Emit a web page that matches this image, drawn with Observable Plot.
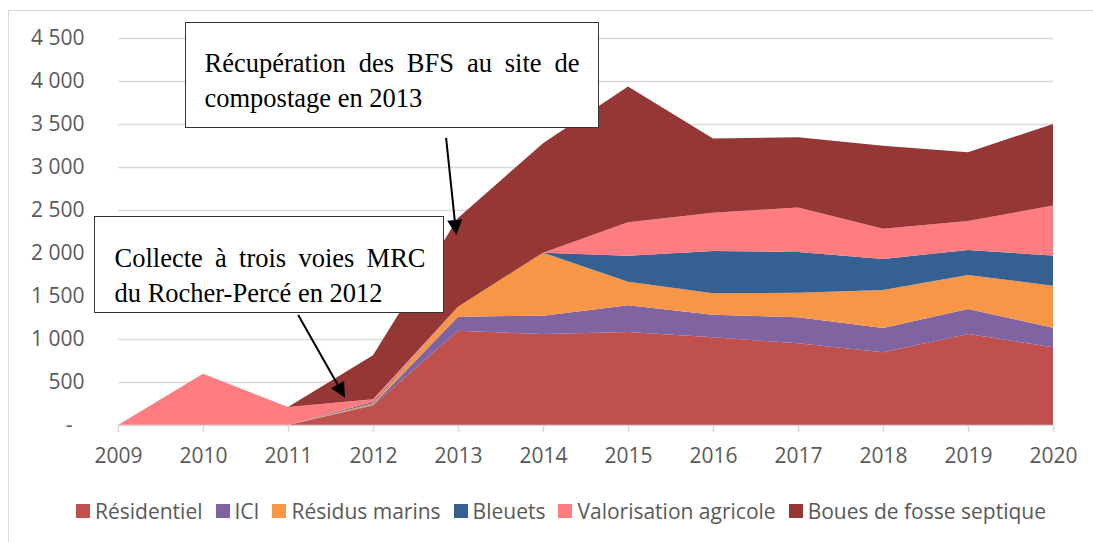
<!DOCTYPE html>
<html><head><meta charset="utf-8">
<script src="https://cdn.jsdelivr.net/npm/d3@7"></script>
<script src="https://cdn.jsdelivr.net/npm/@observablehq/plot@0.6"></script>
<style>
body{margin:0;background:#fff;}
#wrap{position:relative;width:1093px;height:542px;overflow:hidden;background:#fff;font-family:"Open Sans",sans-serif;}
#frame{position:absolute;left:8px;top:10px;width:1100px;height:540px;border:1.5px solid #d9d9d9;box-sizing:border-box;}
#chart{position:absolute;left:0;top:0;}
#overlay{position:absolute;left:0;top:0;pointer-events:none;}
.box{position:absolute;background:#fff;border:1.5px solid #333;box-sizing:border-box;font-family:"Liberation Serif","Times New Roman",serif;font-size:26.5px;line-height:35px;color:#000;}
.l1{text-align:justify;text-align-last:justify;white-space:nowrap;}
.l2{white-space:nowrap;}
#legend{position:absolute;left:0;top:497px;width:1122px;display:flex;justify-content:center;align-items:center;font-size:21px;color:#595959;}
.item{display:flex;align-items:center;margin:0 6.5px;}
.sw{width:14px;height:14px;margin-right:5px;}
</style>
</head><body>
<div id="wrap">
  <div id="frame"></div>
  <div id="chart"></div>
  <svg id="overlay" width="1093" height="542"></svg>
  <div id="legend"></div>
</div>
<script>
const years = [2009,2010,2011,2012,2013,2014,2015,2016,2017,2018,2019,2020];
const residentiel   = [0,0,0,228,1095,1058,1080,1020,950,845,1058,903];
const ici           = [0,0,0,8,165,213,313,263,302,283,291,229];
const residusMarins = [0,0,0,18,116,733,273,248,287,442,396,488];
const bleuets       = [0,0,0,13,0,0,301,493,473,361,290,350];
const valorisation  = [0,595,210,31,0,0,390,445,516,352,337,581];
const boues         = [0,0,0,512,1030,1272,1578,861,818,965,799,950];

const seriesNames = ["Résidentiel","ICI","Résidus marins","Bleuets","Valorisation agricole","Boues de fosse septique"];
const seriesColors = ["#C0504D","#8064A2","#F79646","#366092","#FF7C80","#953735"];
const seriesValues = [residentiel, ici, residusMarins, bleuets, valorisation, boues];
const yTicks = [500,1000,1500,2000,2500,3000,3500,4000,4500];

const annotations = [
  {lines:["Récupération des BFS au site de","compostage en 2013"], left:185, top:22, width:414, height:106, padL:18.5, padR:18.5, padT:22.5},
  {lines:["Collecte à trois voies MRC","du Rocher-Percé en 2012"], left:94, top:216, width:350, height:97, padL:19.5, padR:17.5, padT:23.5}
];
const arrows = [
  {x1:2012.86, y1:3338, x2:2012.98, y2:2210},
  {x1:2011.12, y1:1279, x2:2011.67, y2:318}
];

const data = [];
seriesNames.forEach((s, i) => {
  years.forEach((yr, j) => data.push({year: yr, value: seriesValues[i][j], serie: s}));
});

const fmt = d => d3.format(",")(d).replace(/,/g, "\u00a0");

const plot = Plot.plot({
  width: 1093,
  height: 480,
  marginLeft: 118,
  marginRight: 40,
  marginTop: 38,
  marginBottom: 55,
  style: {fontFamily: "Open Sans", fontSize: "21px", color: "#595959", background: "transparent"},
  x: {domain: [2009, 2020]},
  y: {domain: [0, 4500]},
  color: {domain: seriesNames, range: seriesColors},
  marks: [
    Plot.gridY(yTicks, {stroke: "#d9d9d9", strokeOpacity: 1, strokeWidth: 1.5}),
    Plot.areaY(data, {x: "year", y: "value", fill: "serie", z: "serie", curve: "linear"}),
    Plot.ruleY([0], {stroke: "#d9d9d9", strokeWidth: 1.5}),
    Plot.axisX(years, {tickFormat: d3.format("d"), tickSize: 7, tickPadding: 16, stroke: "#d9d9d9", strokeWidth: 1.5, fill: "#595959", label: null}),
    Plot.axisY(yTicks, {tickFormat: fmt, tickSize: 0, tickPadding: 34, fill: "#595959", label: null}),
    Plot.axisY([0], {tickFormat: () => "-", tickSize: 0, tickPadding: 46, fill: "#595959", label: null})
  ]
});
document.getElementById("chart").appendChild(plot);

const xs = plot.scale("x"), ys = plot.scale("y");
const ov = d3.select("#overlay");
arrows.forEach(a => {
  const sx = xs.apply(a.x1), sy = ys.apply(a.y1), tx = xs.apply(a.x2), ty = ys.apply(a.y2);
  const dx = tx - sx, dy = ty - sy, len = Math.hypot(dx, dy);
  const ux = dx / len, uy = dy / len, nx = -uy, ny = ux;
  const hl = 15, hw = 7.5;
  const bx = tx - ux * hl, by = ty - uy * hl;
  ov.append("line").attr("x1", sx).attr("y1", sy).attr("x2", bx).attr("y2", by)
    .attr("stroke", "#000").attr("stroke-width", 2);
  ov.append("polygon").attr("points", `${tx},${ty} ${bx + nx * hw},${by + ny * hw} ${bx - nx * hw},${by - ny * hw}`)
    .attr("fill", "#000");
});

const wrap = document.getElementById("wrap");
annotations.forEach(a => {
  const b = document.createElement("div");
  b.className = "box";
  Object.assign(b.style, {left: a.left + "px", top: a.top + "px", width: a.width + "px", height: a.height + "px",
    paddingLeft: a.padL + "px", paddingRight: a.padR + "px", paddingTop: a.padT + "px"});
  a.lines.forEach((t, i) => {
    const d = document.createElement("div");
    d.className = i === 0 ? "l1" : "l2";
    d.textContent = t;
    b.appendChild(d);
  });
  wrap.insertBefore(b, document.getElementById("legend"));
});

const leg = document.getElementById("legend");
seriesNames.forEach((s, i) => {
  const it = document.createElement("div");
  it.className = "item";
  const sw = document.createElement("div");
  sw.className = "sw";
  sw.style.background = seriesColors[i];
  const tx = document.createElement("span");
  tx.textContent = s;
  it.appendChild(sw); it.appendChild(tx);
  leg.appendChild(it);
});
</script>
</body></html>
